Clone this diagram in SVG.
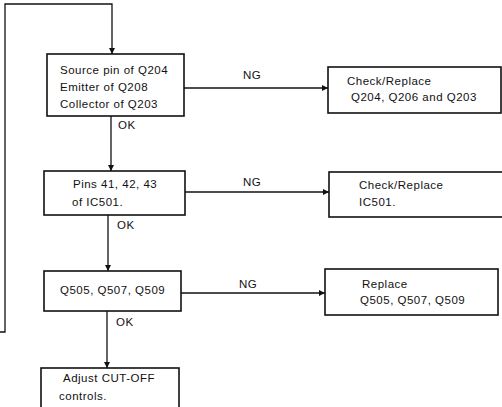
<svg xmlns="http://www.w3.org/2000/svg" width="502" height="407" viewBox="0 0 502 407">
<style>
.box{fill:#fff;stroke:#111;stroke-width:1.6}
.t{font-family:"Liberation Sans",Arial,sans-serif;font-size:11.5px;letter-spacing:0.5px;fill:#111}
.c{fill:none;stroke:#111;stroke-width:1.3}
</style>
<defs>
<marker id="ah" viewBox="0 0 10 10" refX="10" refY="5" markerWidth="8" markerHeight="6" markerUnits="userSpaceOnUse" orient="auto">
<path d="M0,0 L10,5 L0,10 z" fill="#111"/>
</marker>
</defs>
<rect width="502" height="407" fill="#fff"/>
<g id="connectors">
<polyline class="c" points="0,332 5,332 5,4 112,4 112,54" marker-end="url(#ah)"/>
<line class="c" x1="111" y1="116" x2="111" y2="171" marker-end="url(#ah)"/>
<line class="c" x1="108" y1="215" x2="108" y2="271" marker-end="url(#ah)"/>
<line class="c" x1="107" y1="311" x2="107" y2="368" marker-end="url(#ah)"/>
<line class="c" x1="184" y1="88" x2="328" y2="88" marker-end="url(#ah)"/>
<line class="c" x1="185" y1="192" x2="329" y2="192" marker-end="url(#ah)"/>
<line class="c" x1="181" y1="293" x2="325" y2="293" marker-end="url(#ah)"/>
<text class="t" x="118" y="129">OK</text>
<text class="t" x="117" y="229">OK</text>
<text class="t" x="116" y="326">OK</text>
<text class="t" x="243" y="79">NG</text>
<text class="t" x="243" y="186">NG</text>
<text class="t" x="239" y="288">NG</text>
</g>
<g id="n1">
<rect class="box" x="47" y="54" width="137" height="62"/>
<text class="t" x="60" y="74">Source pin of Q204</text>
<text class="t" x="60" y="91">Emitter of Q208</text>
<text class="t" x="60" y="108">Collector of Q203</text>
</g>
<g id="n2">
<rect class="box" x="44" y="171" width="141" height="44"/>
<text class="t" x="73" y="188">Pins 41, 42, 43</text>
<text class="t" x="72" y="206">of IC501.</text>
</g>
<g id="n3">
<rect class="box" x="44" y="271" width="137" height="40"/>
<text class="t" x="60" y="294">Q505, Q507, Q509</text>
</g>
<g id="n4">
<rect class="box" x="41" y="368" width="138" height="45"/>
<text class="t" x="63" y="382">Adjust CUT-OFF</text>
<text class="t" x="59" y="400">controls.</text>
</g>
<g id="r1">
<rect class="box" x="328" y="67" width="173" height="46"/>
<text class="t" x="347" y="85">Check/Replace</text>
<text class="t" x="351" y="101">Q204, Q206 and Q203</text>
</g>
<g id="r2">
<rect class="box" x="329" y="172" width="176" height="45"/>
<text class="t" x="359" y="189">Check/Replace</text>
<text class="t" x="359" y="206">IC501.</text>
</g>
<g id="r3">
<rect class="box" x="325" y="269" width="173" height="46"/>
<text class="t" x="362" y="288">Replace</text>
<text class="t" x="360" y="304">Q505, Q507, Q509</text>
</g>
</svg>
